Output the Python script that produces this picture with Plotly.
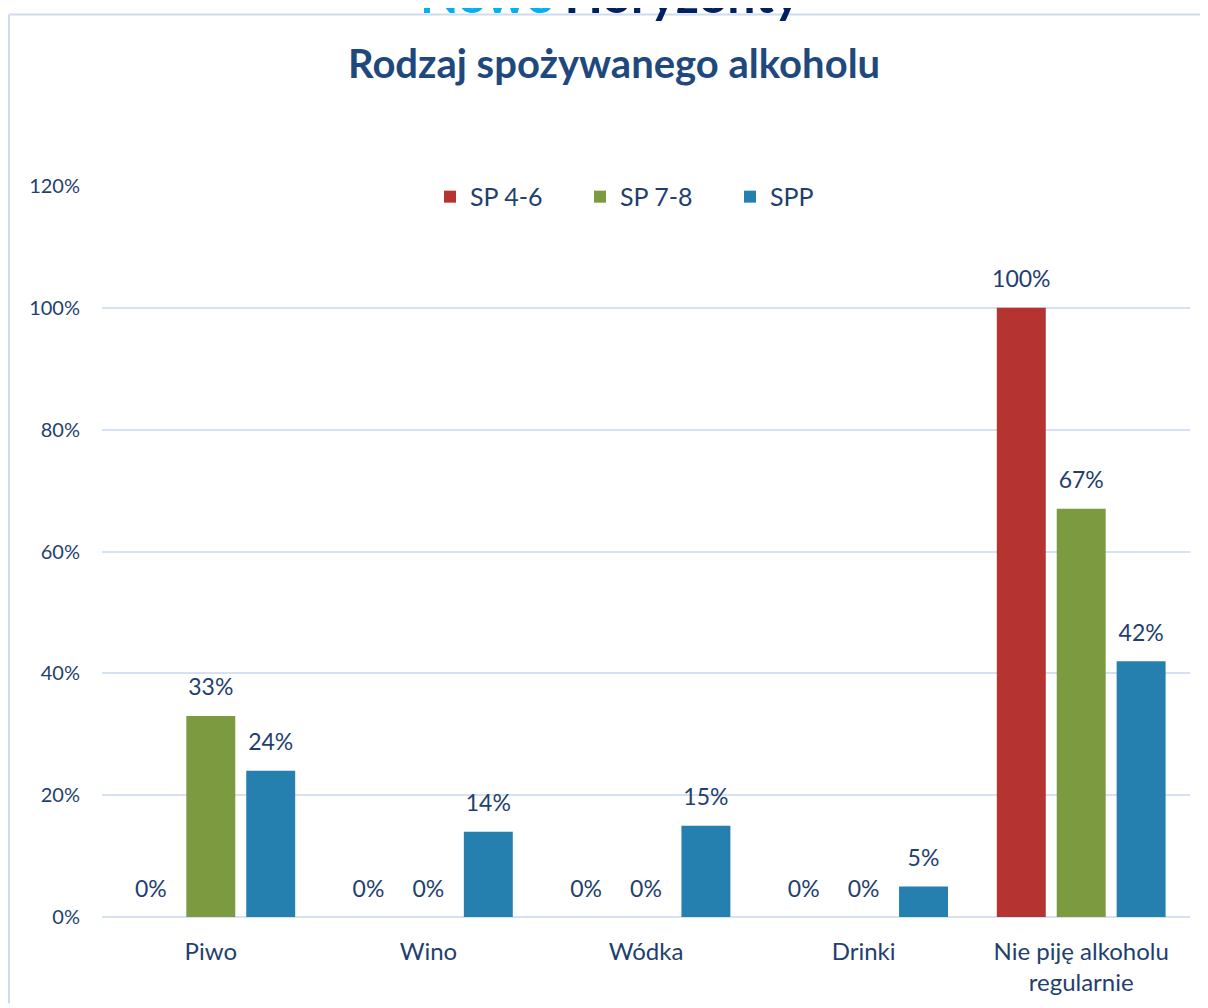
import plotly.graph_objects as go

categories = ["Piwo", "Wino", "Wódka", "Drinki", "Nie piję alkoholu<br>regularnie"]
series_names = ["SP 4-6", "SP 7-8", "SPP"]
sp46 = [0, 0, 0, 0, 1.00]
sp78 = [0.33, 0, 0, 0, 0.67]
spp = [0.24, 0.14, 0.15, 0.05, 0.42]
tick_vals = [0, 0.2, 0.4, 0.6, 0.8, 1.0, 1.2]
tick_text = ["0%", "20%", "40%", "60%", "80%", "100%", "120%"]

colors = ["#b53331", "#7c9a3f", "#2580b0"]
txt = "#1f3f6e"
font = "Lato"

# page body has an 8px margin: work in screen coordinates and convert
O = 8
W, H = 1208 - O, 1008 - O
L, R, T, B = 102 - O, 18, 186 - O, 93 - O
pw, ph = W - L - R, H - T - B


def px(x):  # screen x -> paper
    return (x - O - L) / pw


def py(y):  # screen y -> paper
    return (H - B - (y - O)) / ph


BARGAP = 0.174

fig = go.Figure()
for i, (name, vals, col) in enumerate(zip(series_names, [sp46, sp78, spp], colors)):
    fig.add_trace(go.Bar(
        x=categories, y=vals, name=name, offsetgroup=str(i),
        marker=dict(color=col, line=dict(width=0)),
        hoverinfo="skip",
    ))
for i, vals in enumerate([sp46, sp78, spp]):
    fig.add_trace(go.Scatter(
        x=categories, y=vals, offsetgroup=str(i), mode="markers+text",
        marker=dict(size=22, opacity=0),
        text=[f"{round(v*100)}%" for v in vals],
        textposition="top center", cliponaxis=False,
        textfont=dict(size=23, color=txt, family=font),
        showlegend=False, hoverinfo="skip",
    ))

fig.update_layout(
    width=W, height=H,
    margin=dict(l=L, r=R, t=T, b=B),
    paper_bgcolor="white", plot_bgcolor="white",
    barmode="group", bargap=BARGAP, bargroupgap=0.183,
    scattermode="group", scattergap=BARGAP,
    font=dict(family=font, color=txt),
    showlegend=True,
    legend=dict(orientation="h", x=px(430), y=py(197), xanchor="left", yanchor="middle",
                font=dict(size=25, color=txt, family=font),
                entrywidth=105, entrywidthmode="pixels", itemwidth=30,
                traceorder="normal", bgcolor="rgba(0,0,0,0)"),
    xaxis=dict(showgrid=False, showline=False, ticks="", tickfont=dict(size=24, color=txt, family=font),
               ticklabelstandoff=18),
    yaxis=dict(range=[0, 1.2], tickvals=tick_vals, ticktext=tick_text, showgrid=True,
               gridcolor="#d6e1f1", gridwidth=1.5, zeroline=True, zerolinecolor="#d6e1f1", zerolinewidth=1.5,
               showline=False, tickfont=dict(size=20, color=txt, family=font), ticklabelstandoff=21),
    hovermode=False,
    annotations=[
        dict(text="Rodzaj spożywanego alkoholu", xref="paper", yref="paper", x=px(614), y=py(62),
             xanchor="center", yanchor="middle", showarrow=False,
             font=dict(size=40, color="#1f497d", family=font, weight="bold")),
        dict(text="<span style='color:#00b0f0'>Nowe</span> <span style='color:#002060'>Horyzonty</span>",
             xref="paper", yref="paper", x=px(610), y=py(25), xanchor="center", yanchor="bottom",
             showarrow=False, font=dict(size=50, family=font, weight="bold")),
    ],
    shapes=[
        dict(type="line", xref="paper", yref="paper", x0=px(9), x1=px(9), y0=py(13), y1=py(1010),
             line=dict(color="#d0dcee", width=2)),
        dict(type="line", xref="paper", yref="paper", x0=px(9), x1=px(1215), y0=py(13), y1=py(13),
             line=dict(color="#d0dcee", width=2)),
    ],
)

fig.write_html("out.html")
